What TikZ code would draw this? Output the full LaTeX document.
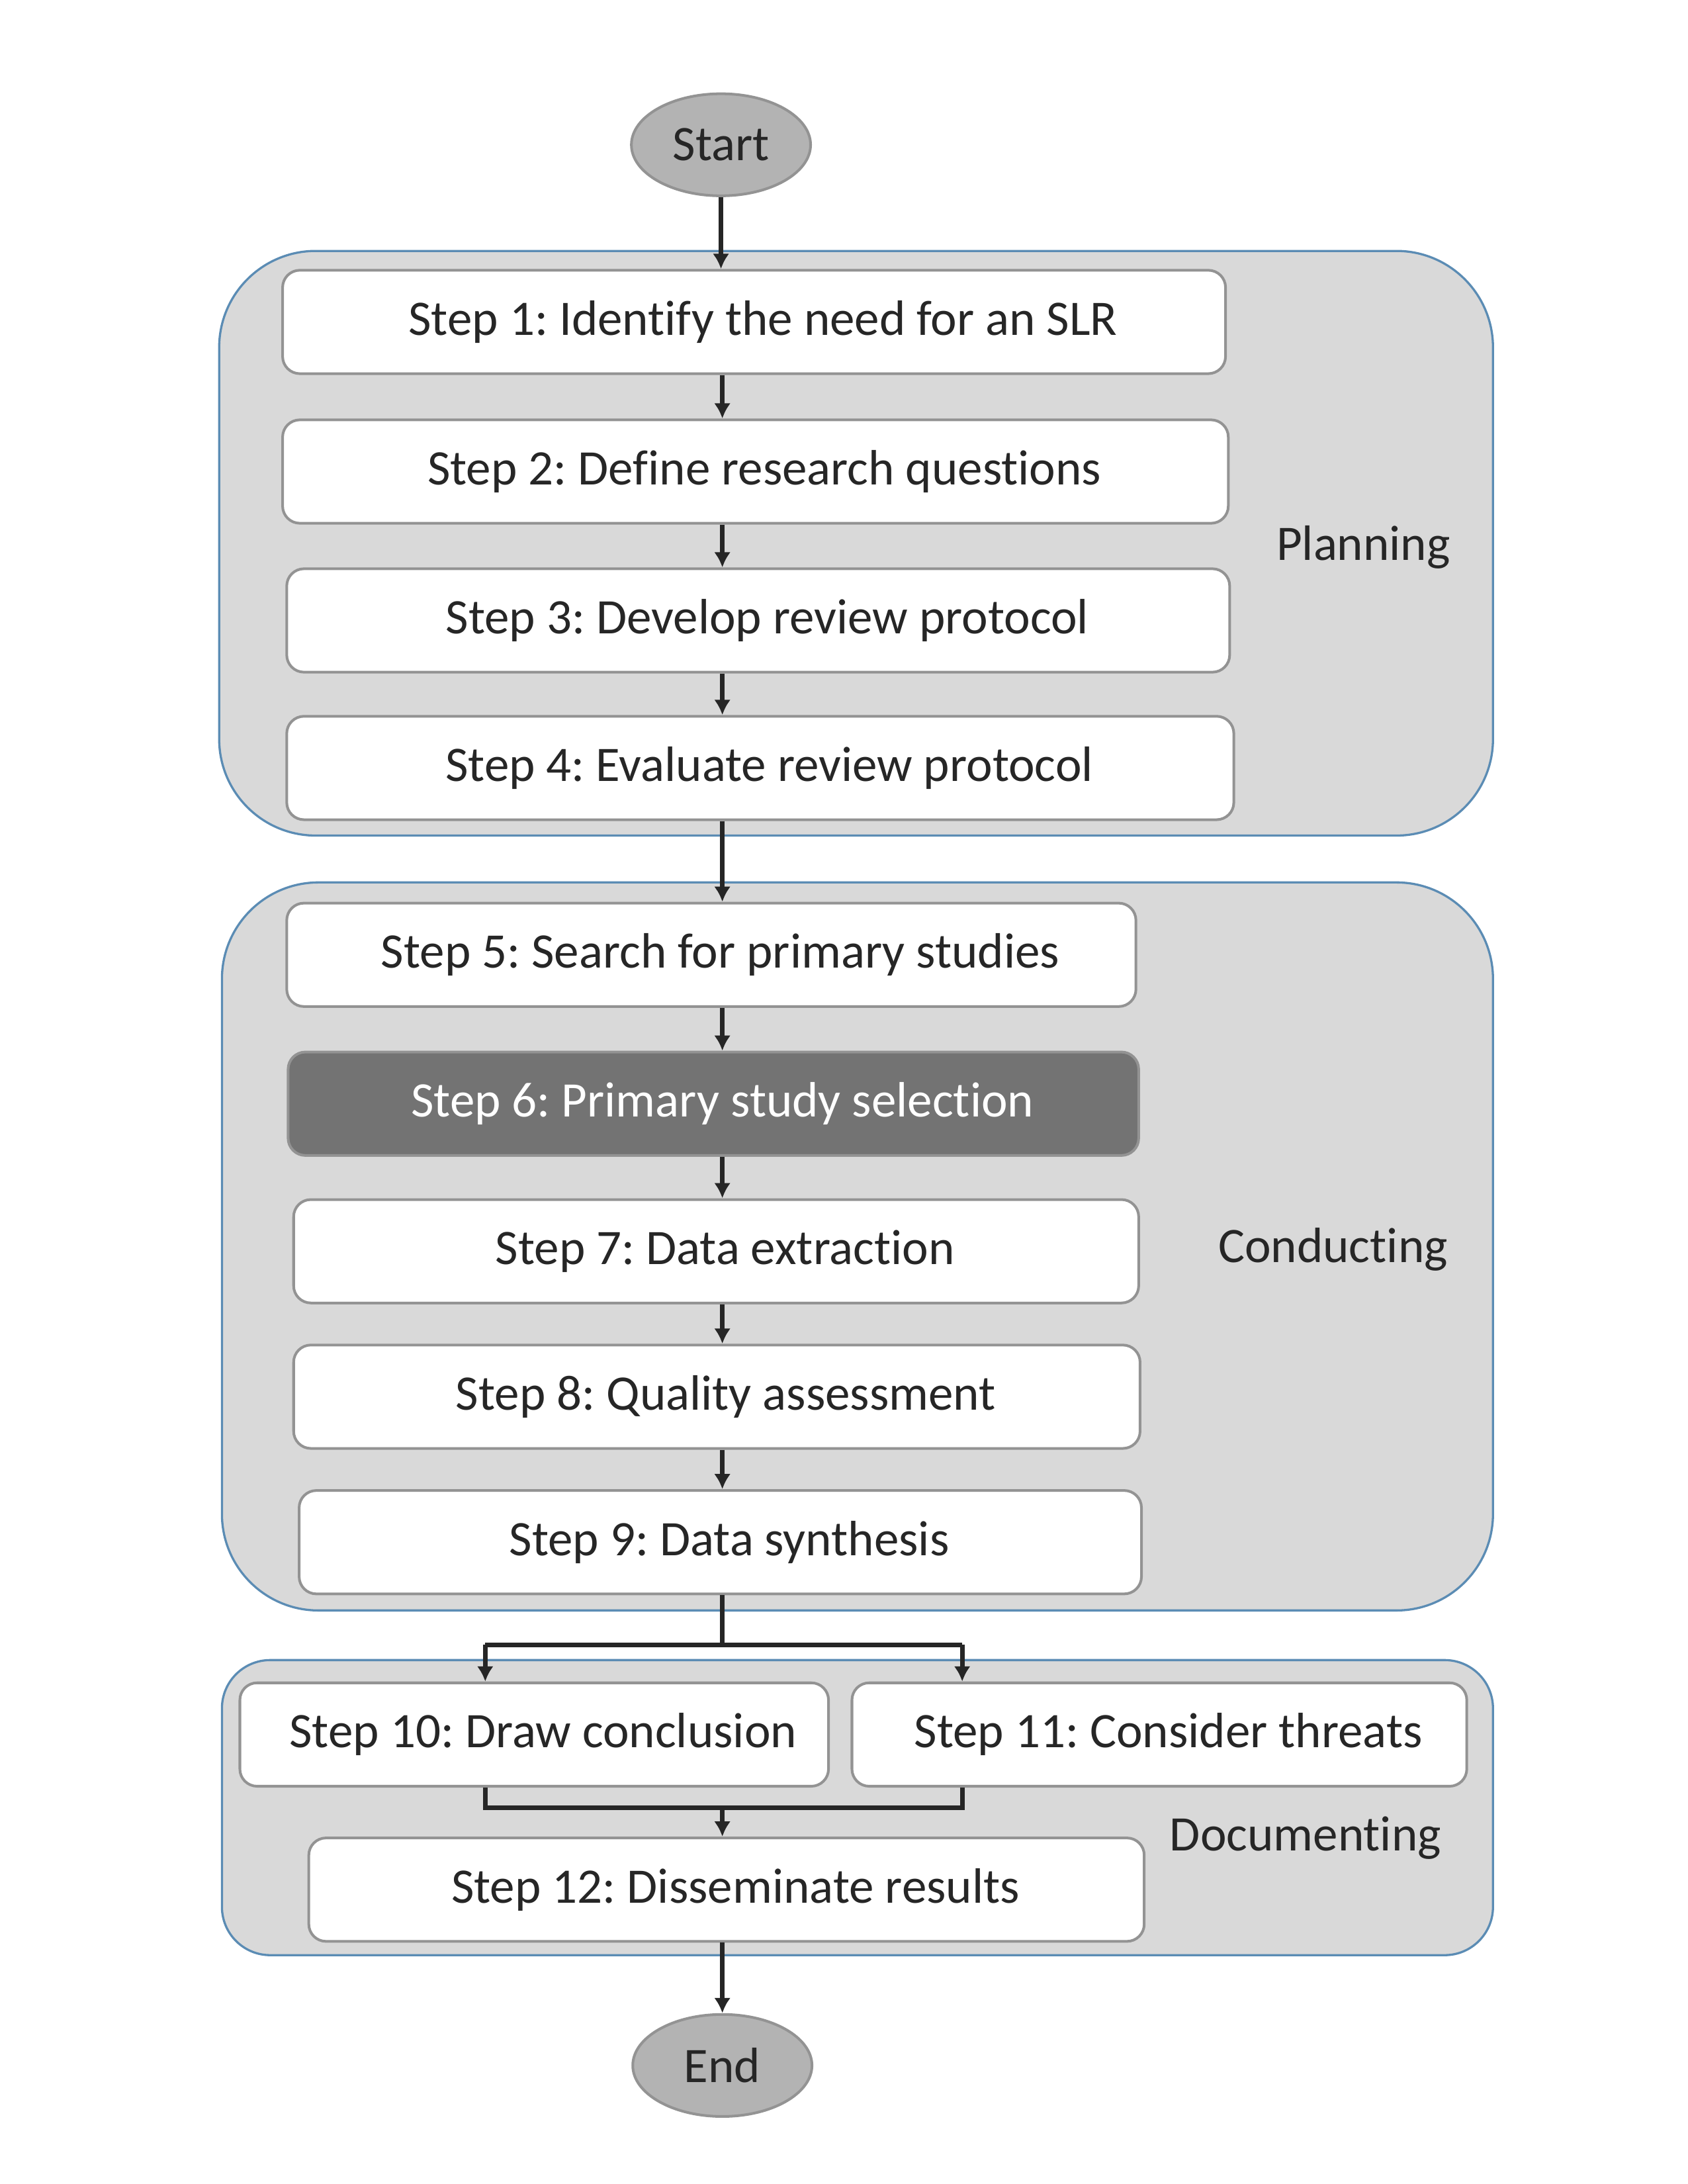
\documentclass[tikz,border=0pt]{standalone}
\usepackage{fontspec}
\setmainfont{Carlito}[Ligatures=NoCommon]
\usetikzlibrary{positioning,arrows.meta,shapes.geometric}
\frenchspacing

\definecolor{grpfill}{HTML}{D9D9D9}
\definecolor{grpline}{HTML}{5B8CB4}
\definecolor{boxline}{HTML}{939393}
\definecolor{txt}{HTML}{262626}
\definecolor{termfill}{HTML}{B3B3B3}
\definecolor{hilite}{HTML}{737373}

\begin{document}
\begin{tikzpicture}[x=0.2mm, y=-0.2mm, font=\fontsize{20.5}{24}\selectfont, text=txt,
    group/.style={draw=grpline, fill=grpfill, line width=0.9pt, rounded corners=14mm, inner sep=0pt},
    stepbox/.style={draw=boxline, fill=white, line width=1.1pt, rounded corners=2.5mm, minimum height=15mm,
        execute at begin node=\hspace*{2.6mm}},
    term/.style={ellipse, draw=boxline, fill=termfill, line width=1.1pt, minimum width=26mm, minimum height=14.8mm},
    flow/.style={draw=txt, line width=2pt, -{Latex[length=2.2mm,width=2.4mm]}},
    line/.style={draw=txt, line width=2pt}]
    \useasboundingbox (0,0) rectangle (1224,1584);

    % groups
    \node[group, minimum width=184.8mm, minimum height=84.8mm] (planning) at (621,394) {};
    \node[group, minimum width=184.4mm, minimum height=105.6mm] (conducting) at (622,904) {};
    \node[group, minimum width=184.4mm, minimum height=42.8mm, rounded corners=7mm] (documenting) at (622,1311) {};
    \node at (989,397) {Planning};
    \node at (967,906) {Conducting};
    \node at (947,1333) {Documenting};

    \node[term] (start) at (523,105) {Start};
    \node[term] (end) at (524,1498) {End};

    % steps
    \node[stepbox, minimum width=136.8mm] (s1) at (547,233.5) {Step 1: Identify the need for an SLR};
    \node[stepbox, minimum width=137.2mm] (s2) at (548,342) {Step 2: Define research questions};
    \node[stepbox, minimum width=136.8mm] (s3) at (550,450) {Step 3: Develop review protocol};
    \node[stepbox, minimum width=137.4mm] (s4) at (551.5,557) {Step 4: Evaluate review protocol};
    \node[stepbox, minimum width=123.2mm] (s5) at (516,692.5) {Step 5: Search for primary studies};
    \node[stepbox, minimum width=123.4mm, fill=hilite, text=white] (s6) at (517.5,800.5) {Step 6: Primary study selection};
    \node[stepbox, minimum width=122.6mm] (s7) at (519.5,907.5) {Step 7: Data extraction};
    \node[stepbox, minimum width=122.8mm] (s8) at (520,1013) {Step 8: Quality assessment};
    \node[stepbox, minimum width=122.2mm] (s9) at (522.5,1118.5) {Step 9: Data synthesis};
    \node[stepbox, minimum width=85.4mm] (s10) at (387.5,1258) {Step 10: Draw conclusion};
    \node[stepbox, minimum width=89.2mm] (s11) at (841,1258) {Step 11: Consider threats};
    \node[stepbox, minimum width=121.2mm] (s12) at (527,1370.5) {Step 12: Disseminate results};

    % connectors
    \coordinate (axis) at (524,0);
    \draw[flow] (start.south) -- (start.south |- s1.north);
    \foreach \a/\b in {s1/s2,s2/s3,s3/s4,s4/s5,s5/s6,s6/s7,s7/s8,s8/s9}
        \draw[flow] (\a.south -| axis) -- (\b.north -| axis);

    \coordinate (split) at (524,1193);
    \coordinate (splitL) at (352,1193);
    \coordinate (splitR) at (698,1193);
    \coordinate (join) at (524,1311);
    \coordinate (joinL) at (352,1311);
    \coordinate (joinR) at (698,1311);
    \draw[line] (s9.south -| split) -- (split);
    \draw[line] (splitL) -- (splitR);
    \draw[flow] (splitL) -- (splitL |- s10.north);
    \draw[flow] (splitR) -- (splitR |- s11.north);
    \draw[line] (s10.south -| joinL) -- (joinL) -- (joinR) -- (s11.south -| joinR);
    \draw[flow] (join) -- (join |- s12.north);
    \draw[flow] (s12.south -| end) -- (end.north);
\end{tikzpicture}
\end{document}
